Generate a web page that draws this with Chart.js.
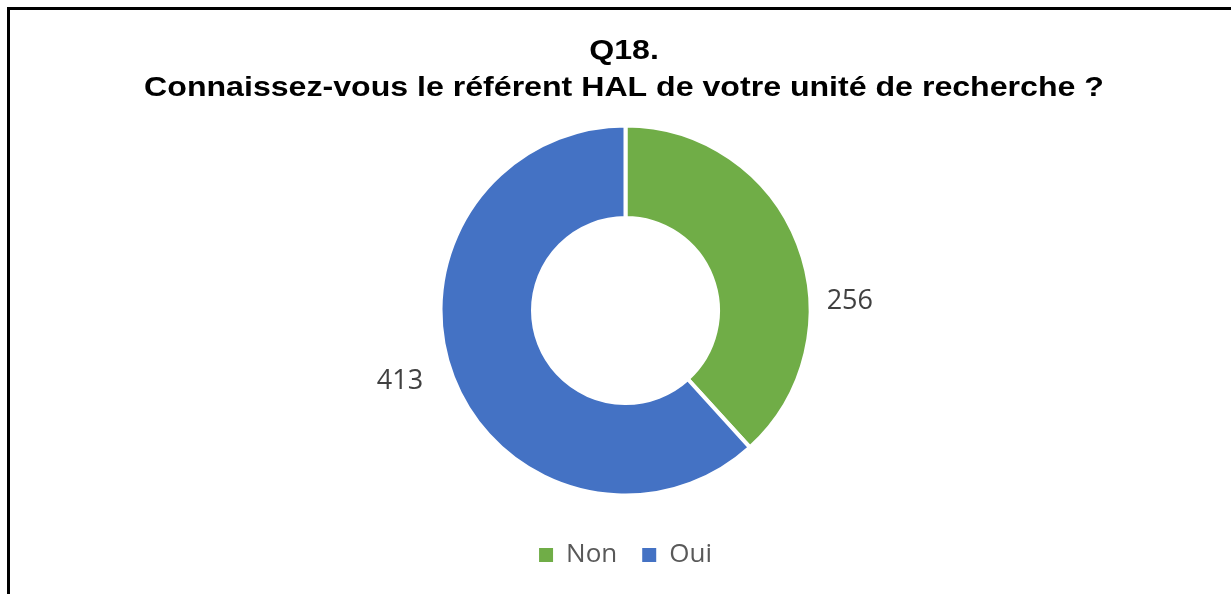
<!DOCTYPE html>
<html>
<head>
<meta charset="utf-8">
<script src="https://cdn.jsdelivr.net/npm/chart.js@4/dist/chart.umd.min.js"></script>
<style>
  html, body { margin: 0; padding: 0; background: #fff; }
  #wrap { position: relative; width: 1231px; height: 594px; overflow: hidden; }
  #frame { position: absolute; left: 7px; top: 7px; width: 1300px; height: 700px;
           border-left: 3px solid #000; border-top: 3px solid #000; box-sizing: border-box; }
  canvas { position: absolute; left: 0; top: 0; }
</style>
</head>
<body>
<div id="wrap">
  <div id="frame"></div>
  <canvas id="c" width="1231" height="594"></canvas>
</div>
<script>
const titleLines = ["Q18.", "Connaissez-vous le référent HAL de votre unité de recherche ?"];
const categories = ["Non", "Oui"];
const values = [256, 413];
const colors = ["#70AD47", "#4472C4"];

// label placement tweaks (style, not data): angle offset in degrees, distance beyond outer radius
const labelPlacement = [{ dAngle: 18.8, dist: 39.5 }, { dAngle: 3.6, dist: 51.5 }];

const wideTitle = {
  id: 'wideTitle',
  afterDraw(chart) {
    const ctx = chart.ctx;
    const o = chart.options.plugins.wideTitle;
    ctx.save();
    ctx.font = 'bold 27px "Liberation Sans", Arial, sans-serif';
    ctx.fillStyle = '#000000';
    ctx.textAlign = 'center';
    ctx.textBaseline = 'alphabetic';
    o.lines.forEach((line, i) => {
      ctx.save();
      ctx.translate(o.centerX, o.firstBaseline + i * o.lineGap);
      ctx.scale(o.stretch, 1);
      ctx.fillText(line, 0, 0);
      ctx.restore();
    });
    ctx.restore();
  }
};

const outsideLabels = {
  id: 'outsideLabels',
  afterDatasetsDraw(chart) {
    const ctx = chart.ctx;
    const meta = chart.getDatasetMeta(0);
    ctx.save();
    ctx.font = '27px "Open Sans"';
    ctx.fillStyle = '#404040';
    ctx.textAlign = 'center';
    ctx.textBaseline = 'middle';
    meta.data.forEach((arc, i) => {
      const p = arc.getProps(['x', 'y', 'startAngle', 'endAngle', 'outerRadius'], true);
      const pl = labelPlacement[i];
      const mid = (p.startAngle + p.endAngle) / 2 + pl.dAngle * Math.PI / 180;
      const r = p.outerRadius + pl.dist;
      ctx.fillText(String(chart.data.datasets[0].data[i]), p.x + Math.cos(mid) * r, p.y + Math.sin(mid) * r);
    });
    ctx.restore();
  }
};

new Chart(document.getElementById('c'), {
  type: 'doughnut',
  data: {
    labels: categories,
    datasets: [{
      data: values,
      backgroundColor: colors,
      borderColor: '#ffffff',
      borderWidth: 4,
      hoverOffset: 0
    }]
  },
  options: {
    responsive: false,
    animation: false,
    cutout: '50%',
    radius: 185,
    layout: { padding: { top: 104, bottom: 16, left: 30, right: 10 } },
    plugins: {
      title: { display: false },
      wideTitle: { lines: titleLines, centerX: 624, firstBaseline: 59, lineGap: 37, stretch: 1.189 },
      legend: {
        display: true,
        position: 'bottom',
        labels: {
          color: '#595959',
          font: { family: '"Open Sans", sans-serif', size: 26 },
          boxWidth: 14,
          boxHeight: 14,
          padding: 25,
          generateLabels(chart) {
            const items = Chart.overrides.doughnut.plugins.legend.labels.generateLabels(chart);
            items.forEach(it => { it.lineWidth = 0; it.strokeStyle = 'rgba(0,0,0,0)'; });
            return items;
          }
        }
      },
      tooltip: { enabled: false }
    }
  },
  plugins: [outsideLabels, wideTitle]
});
</script>
</body>
</html>
